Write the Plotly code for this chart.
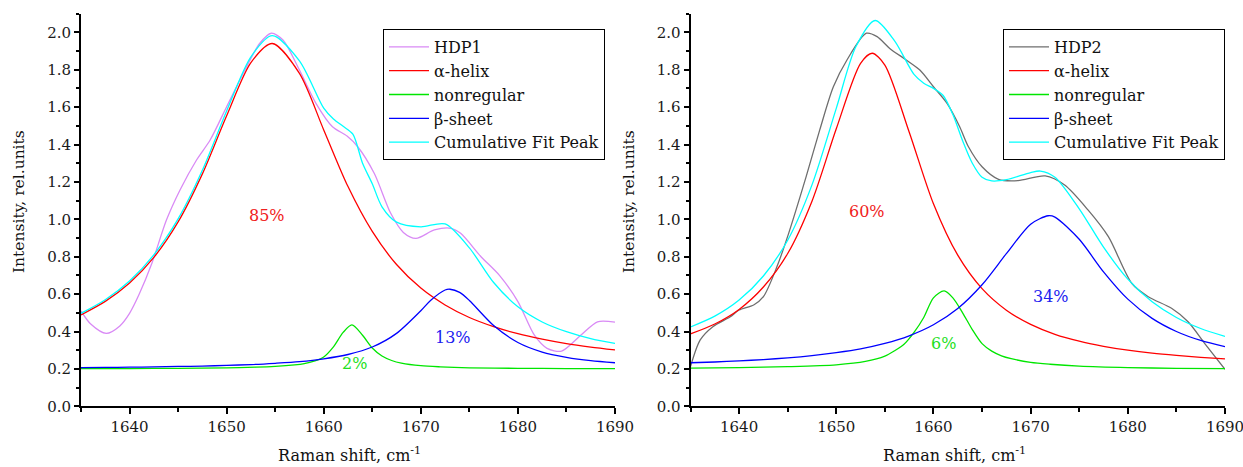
import plotly.graph_objects as go

# ---------------- data ----------------
# Left panel: HDP1
x_hdp1 = [1635, 1636, 1637.6, 1639, 1640, 1641, 1642.3, 1643.8, 1645.2, 1646.9, 1648.3, 1650.0, 1651.7,
          1653.4, 1654.6, 1655.8, 1657.5, 1659.2, 1660.9, 1662.4, 1663.5, 1665.2, 1666.9, 1668.2, 1669.5,
          1671.4, 1673.1, 1674.1, 1676.2, 1678.1, 1680.0, 1681.7, 1683.0, 1684.5, 1686.5, 1688.2, 1690]
hdp1 = [0.51, 0.44, 0.39, 0.43, 0.497, 0.60, 0.765, 0.996, 1.157, 1.317, 1.424, 1.602, 1.78,
        1.94, 1.995, 1.959, 1.798, 1.62, 1.495, 1.445, 1.388, 1.246, 1.032, 0.93, 0.898,
        0.943, 0.952, 0.925, 0.80, 0.70, 0.56, 0.38, 0.31, 0.295, 0.381, 0.452, 0.45]

x_alpha_L = [1635, 1637.5, 1640, 1642.5, 1645, 1647.5, 1650, 1652.5, 1654.7, 1657.5, 1660, 1662.5,
             1665, 1667.5, 1670, 1672.5, 1675, 1677.5, 1680, 1682.5, 1685, 1687.5, 1690]
alpha_L = [0.489, 0.561, 0.659, 0.796, 0.986, 1.243, 1.554, 1.838, 1.940, 1.780, 1.478, 1.175,
           0.935, 0.758, 0.632, 0.542, 0.475, 0.426, 0.388, 0.359, 0.335, 0.317, 0.302]

x_nonreg_L = [1635, 1640, 1645, 1650, 1653, 1655, 1657, 1658, 1659, 1660, 1661, 1662, 1662.9, 1664,
              1665, 1666, 1667, 1668, 1670, 1672, 1675, 1680, 1685, 1690]
nonreg_L = [0.201, 0.202, 0.203, 0.206, 0.209, 0.213, 0.221, 0.228, 0.241, 0.264, 0.318, 0.395, 0.435, 0.380,
            0.312, 0.269, 0.245, 0.231, 0.217, 0.211, 0.206, 0.203, 0.202, 0.201]

x_beta_L = [1635, 1637.5, 1640, 1642.5, 1645, 1647.5, 1650, 1652.5, 1655, 1657.5, 1660, 1662.5, 1665,
            1667.5, 1670, 1671, 1672.5, 1673, 1674, 1675, 1677.5, 1680, 1682.5, 1685, 1687.5, 1690]
beta_L = [0.207, 0.208, 0.209, 0.211, 0.213, 0.215, 0.219, 0.223, 0.230, 0.239, 0.254, 0.277, 0.317,
          0.390, 0.511, 0.566, 0.622, 0.626, 0.609, 0.566, 0.432, 0.341, 0.290, 0.262, 0.244, 0.233]

x_cum_L = [1635, 1637.5, 1640, 1642.5, 1645, 1647.5, 1650, 1652.5, 1654.7, 1657.5, 1660, 1661, 1662,
           1663, 1664, 1665, 1666, 1667.5, 1670, 1672.5, 1675, 1677.5, 1680, 1682.5, 1685, 1687.5, 1690]
cum_L = [0.497, 0.570, 0.670, 0.810, 1.002, 1.262, 1.579, 1.869, 1.982, 1.847, 1.594, 1.536, 1.497,
         1.455, 1.300, 1.190, 1.067, 0.985, 0.960, 0.975, 0.847, 0.662, 0.532, 0.451, 0.399, 0.362, 0.336]

# Right panel: HDP2
x_hdp2 = [1635, 1636, 1637.3, 1639.1, 1640, 1641.5, 1642.5, 1643.9, 1645.1, 1646.9, 1648.3, 1649.7,
          1651.1, 1653.1, 1654.2, 1655.5, 1657.2, 1658.6, 1660.0, 1661.4, 1662.7, 1663.6, 1665.0,
          1666.7, 1668.7, 1671.5, 1673.5, 1675.9, 1678.0, 1680.4, 1682.1, 1684.5, 1686.2, 1687.9, 1690]
hdp2 = [0.212, 0.355, 0.426, 0.479, 0.515, 0.542, 0.586, 0.747, 0.925, 1.228, 1.478, 1.709,
        1.852, 1.995, 1.977, 1.914, 1.852, 1.798, 1.709, 1.62, 1.495, 1.388, 1.281,
        1.214, 1.207, 1.232, 1.183, 1.05, 0.907, 0.658, 0.586, 0.524, 0.452, 0.337, 0.198]

x_alpha_R = [1635, 1637.5, 1640, 1642.5, 1645, 1647.5, 1650, 1652.5, 1653.7, 1655, 1657.5, 1660, 1662.5,
             1665, 1667.5, 1670, 1672.5, 1675, 1677.5, 1680, 1682.5, 1685, 1687.5, 1690]
alpha_R = [0.387, 0.440, 0.518, 0.638, 0.817, 1.097, 1.484, 1.834, 1.888, 1.825, 1.467, 1.083, 0.808,
           0.629, 0.514, 0.438, 0.385, 0.348, 0.321, 0.300, 0.284, 0.272, 0.262, 0.254]

x_nonreg_R = [1635, 1640, 1645, 1650, 1653, 1655, 1656, 1657, 1658, 1659, 1660, 1661.1, 1662, 1663,
              1664, 1665, 1666, 1667, 1668, 1670, 1672, 1675, 1680, 1685, 1690]
nonreg_R = [0.204, 0.207, 0.212, 0.222, 0.240, 0.268, 0.297, 0.333, 0.395, 0.475, 0.580, 0.617, 0.580, 0.500,
            0.410, 0.335, 0.295, 0.270, 0.255, 0.235, 0.225, 0.215, 0.207, 0.203, 0.201]

x_beta_R = [1635, 1637.5, 1640, 1642.5, 1645, 1647.5, 1650, 1652.5, 1655, 1657.5, 1660, 1662.5, 1665,
            1667.5, 1670, 1671.8, 1672.5, 1675, 1677.5, 1680, 1682.5, 1685, 1687.5, 1690]
beta_R = [0.233, 0.237, 0.243, 0.250, 0.259, 0.271, 0.287, 0.307, 0.336, 0.377, 0.436, 0.523, 0.650,
          0.816, 0.974, 1.019, 1.012, 0.893, 0.719, 0.573, 0.470, 0.400, 0.352, 0.319]

x_cum_R = [1635, 1637.5, 1640, 1642.5, 1645, 1647.5, 1650, 1652, 1654, 1656, 1658, 1659, 1660, 1661,
           1662, 1663, 1664, 1665, 1666, 1667.5, 1670, 1671, 1672.5, 1675, 1677.5, 1680, 1682.5, 1685,
           1687.5, 1690]
cum_R = [0.424, 0.482, 0.568, 0.697, 0.888, 1.184, 1.593, 1.921, 2.063, 1.954, 1.775, 1.728, 1.700, 1.662,
         1.560, 1.42, 1.30, 1.225, 1.205, 1.212, 1.250, 1.258, 1.225, 1.056, 0.851, 0.680, 0.559, 0.475,
         0.416, 0.374]

# percentage labels: (text, x, y)
pct_L = [("85%", 1654.2, 1.02), ("2%", 1663.2, 0.23), ("13%", 1673.3, 0.37)]
pct_R = [("60%", 1653.2, 1.04), ("6%", 1661.0, 0.335), ("34%", 1672.1, 0.585)]

x_ticks = [1640, 1650, 1660, 1670, 1680, 1690]

# ---------------- styling ----------------
FONT = "DejaVu Serif"
C_VIOLET = "#D98AF5"
C_GRAY = "#6E6E6E"
C_RED = "#FF0000"
C_GREEN = "#00E600"
C_BLUE = "#0000FF"
C_CYAN = "#00FFFF"
PCT_COLORS = ["#F02020", "#22E022", "#2020F0"]

W, H = 1243, 467

fig = go.Figure()

def add_panel(xs_list, ys_list, names, colors, xa, ya, legend):
    for xs, ys, nm, col in zip(xs_list, ys_list, names, colors):
        fig.add_trace(go.Scatter(
            x=xs, y=ys, name=nm, mode="lines",
            line=dict(color=col, width=1.3, shape="spline", smoothing=0.8),
            xaxis=xa, yaxis=ya, legend=legend))

names_L = ["HDP1", "α-helix", "nonregular", "β-sheet", "Cumulative Fit Peak"]
names_R = ["HDP2", "α-helix", "nonregular", "β-sheet", "Cumulative Fit Peak"]

add_panel([x_hdp1, x_alpha_L, x_nonreg_L, x_beta_L, x_cum_L],
          [hdp1, alpha_L, nonreg_L, beta_L, cum_L],
          names_L, [C_VIOLET, C_RED, C_GREEN, C_BLUE, C_CYAN], "x", "y", "legend")
add_panel([x_hdp2, x_alpha_R, x_nonreg_R, x_beta_R, x_cum_R],
          [hdp2, alpha_R, nonreg_R, beta_R, cum_R],
          names_R, [C_GRAY, C_RED, C_GREEN, C_BLUE, C_CYAN], "x2", "y2", "legend2")

ydom = [1 - 406.3 / H, 1 - 13.6 / H]
xdomL = [81 / W, 615 / W]
xdomR = [690.5 / W, 1225 / W]

def xaxis(dom, anchor):
    return dict(domain=dom, anchor=anchor, range=[1635, 1690], tickvals=x_ticks,
                showline=True, linewidth=2, linecolor="black", mirror=False,
                ticks="outside", ticklen=6, tickwidth=1.5, tickcolor="black",
                minor=dict(dtick=5, tick0=1635, ticks="outside", ticklen=3.5, tickwidth=1.5, tickcolor="black"),
                showgrid=False, zeroline=False, automargin=False,
                ticklabeloverflow="allow",
                tickfont=dict(family=FONT, size=15, color="#1a1a1a"))

def yaxis(dom, anchor):
    return dict(domain=dom, anchor=anchor, range=[0, 2.1], dtick=0.2, tick0=0, tickformat=".1f",
                showline=True, linewidth=2, linecolor="black", mirror=False,
                ticks="outside", ticklen=5, tickwidth=1.5, tickcolor="black",
                minor=dict(dtick=0.1, tick0=0, ticks="outside", ticklen=3, tickwidth=1.5, tickcolor="black"),
                showgrid=False, zeroline=False, automargin=False,
                tickfont=dict(family=FONT, size=15, color="#1a1a1a"))

legend_common = dict(bgcolor="white", bordercolor="black", borderwidth=1,
                     font=dict(family=FONT, size=16, color="#111111"),
                     xanchor="left", yanchor="top", tracegroupgap=0, itemwidth=40)

annotations = []
for (txt, xv, yv), col in zip(pct_L, PCT_COLORS):
    annotations.append(dict(text=txt, x=xv, y=yv, xref="x", yref="y", showarrow=False,
                            font=dict(family=FONT, size=16, color=col)))
for (txt, xv, yv), col in zip(pct_R, PCT_COLORS):
    annotations.append(dict(text=txt, x=xv, y=yv, xref="x2", yref="y2", showarrow=False,
                            font=dict(family=FONT, size=16, color=col)))

# axis titles
for xc in [349 / W, 954 / W]:
    annotations.append(dict(text="Raman shift, cm<sup>-1</sup>", x=xc, y=0,
                            xref="paper", yref="paper", showarrow=False,
                            xanchor="center", yanchor="bottom",
                            font=dict(family=FONT, size=16, color="#111111")))
for xc in [19 / W, 629 / W]:
    annotations.append(dict(text="Intensity, rel.units", x=xc, y=1 - 202 / H,
                            xref="paper", yref="paper", showarrow=False, textangle=-90,
                            xanchor="center", yanchor="middle",
                            font=dict(family=FONT, size=15.5, color="#111111")))

fig.update_layout(
    template="none",
    width=W, height=H,
    margin=dict(l=0, r=0, t=0, b=0),
    paper_bgcolor="white", plot_bgcolor="white",
    xaxis=xaxis(xdomL, "y"), yaxis=yaxis(ydom, "x"),
    xaxis2=xaxis(xdomR, "y2"), yaxis2=yaxis(ydom, "x2"),
    legend=dict(x=383 / W, y=1 - 29 / H, **legend_common),
    legend2=dict(x=1003 / W, y=1 - 29 / H, **legend_common),
    annotations=annotations,
    showlegend=True,
)

fig.write_html("out.html")
